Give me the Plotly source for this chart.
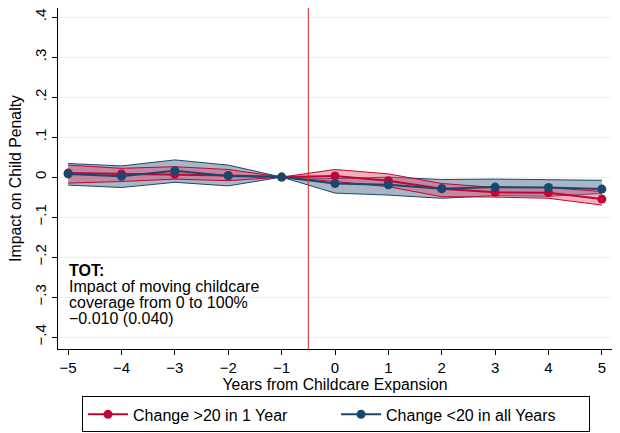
import plotly.graph_objects as go

years = [-5, -4, -3, -2, -1, 0, 1, 2, 3, 4, 5]

red_est = [0.010, 0.008, 0.007, 0.004, 0.0, 0.003, -0.009, -0.029, -0.038, -0.039, -0.055]
red_hi = [0.030, 0.022, 0.026, 0.019, 0.0, 0.019, 0.008, -0.016, -0.026, -0.026, -0.036]
red_lo = [-0.015, -0.011, -0.005, -0.009, 0.0, -0.011, -0.024, -0.049, -0.050, -0.053, -0.070]

blue_est = [0.008, 0.002, 0.016, 0.003, 0.0, -0.016, -0.019, -0.029, -0.025, -0.026, -0.030]
blue_hi = [0.034, 0.028, 0.043, 0.030, 0.0, -0.004, 0.000, -0.006, -0.005, -0.006, -0.008]
blue_lo = [-0.020, -0.026, -0.013, -0.022, 0.0, -0.040, -0.045, -0.053, -0.046, -0.048, -0.041]

y_ticks = [-0.4, -0.3, -0.2, -0.1, 0, 0.1, 0.2, 0.3, 0.4]
y_labels = ["\u2212.4", "\u2212.3", "\u2212.2", "\u2212.1", "0", ".1", ".2", ".3", ".4"]

note_lines = ["<b>TOT:</b>", "Impact of moving childcare", "coverage from 0 to 100%", "\u22120.010 (0.040)"]
note_y = [-0.2325, -0.2725, -0.3125, -0.3525]

RED = "#c10534"
BLUE = "#1a476f"

fig = go.Figure()

# blue band
fig.add_trace(go.Scatter(x=years, y=blue_hi, mode="lines", line=dict(color=BLUE, width=1),
                         showlegend=False, hoverinfo="skip"))
fig.add_trace(go.Scatter(x=years, y=blue_lo, mode="lines", line=dict(color=BLUE, width=1),
                         fill="tonexty", fillcolor="rgba(110,135,160,0.6)",
                         showlegend=False, hoverinfo="skip"))
# red band
fig.add_trace(go.Scatter(x=years, y=red_hi, mode="lines", line=dict(color=RED, width=1),
                         showlegend=False, hoverinfo="skip"))
fig.add_trace(go.Scatter(x=years, y=red_lo, mode="lines", line=dict(color=RED, width=1),
                         fill="tonexty", fillcolor="rgba(225,80,110,0.45)",
                         showlegend=False, hoverinfo="skip"))

fig.add_trace(go.Scatter(x=years, y=red_est, mode="lines+markers", name="Change >20 in 1 Year",
                         line=dict(color=RED, width=2), marker=dict(color=RED, size=9)))
fig.add_trace(go.Scatter(x=years, y=blue_est, mode="lines+markers", name="Change <20 in all Years",
                         line=dict(color=BLUE, width=2), marker=dict(color=BLUE, size=9)))

fig.add_shape(type="line", xref="x", yref="paper", x0=-0.5, x1=-0.5, y0=0, y1=1,
              line=dict(color="#e0202a", width=1))

for txt, yy in zip(note_lines, note_y):
    fig.add_annotation(xref="x", yref="y", x=-5.03, y=yy, xanchor="left", yanchor="middle",
                       align="left", showarrow=False, text=txt,
                       font=dict(size=16, color="black"))

fig.update_layout(
    width=620, height=433,
    margin=dict(l=58, r=8, t=8, b=84, autoexpand=False),
    paper_bgcolor="white", plot_bgcolor="white",
    font=dict(family="Liberation Sans, Arial, sans-serif", size=14, color="black"),
    legend=dict(orientation="h", x=0.542, xanchor="center", xref="container",
                y=0.0845, yanchor="top", yref="container",
                bordercolor="black", borderwidth=1, entrywidth=198, traceorder="normal",
                font=dict(size=16), itemwidth=40),
    showlegend=True,
)
fig.update_xaxes(range=[-5.19, 5.19], tickvals=years, ticks="outside", ticklen=5,
                 tickcolor="black", showline=True, linecolor="black", showgrid=False,
                 zeroline=False,
                 title=dict(text="Years from Childcare Expansion", standoff=3, font=dict(size=15.8)),
                 tickfont=dict(size=15))
fig.update_yaxes(range=[-0.43, 0.423], tickvals=y_ticks, ticktext=y_labels, tickangle=-90,
                 ticks="outside", ticklen=5, tickcolor="black", showline=True, linecolor="black",
                 showgrid=True, gridcolor="#e8f0f2", zeroline=False,
                 title=dict(text="Impact on Child Penalty", standoff=6, font=dict(size=15.8)),
                 tickfont=dict(size=15))

fig.write_html("out.html")
